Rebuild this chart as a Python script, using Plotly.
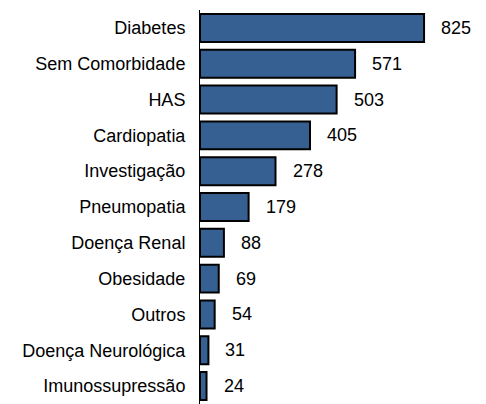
import plotly.graph_objects as go

# comorbidades e contagens (de cima para baixo)
categorias = ["Diabetes", "Sem Comorbidade", "HAS", "Cardiopatia", "Investigação",
              "Pneumopatia", "Doença Renal", "Obesidade", "Outros",
              "Doença Neurológica", "Imunossupressão"]
valores = [825, 571, 503, 405, 278, 179, 88, 69, 54, 31, 24]

fig = go.Figure()
fig.add_trace(go.Bar(
    x=valores, y=categorias, orientation="h",
    marker=dict(color="#376092", line=dict(color="black", width=2)),
    width=0.78,
))

# rotulos de valor a direita das barras
for cat, v in zip(categorias, valores):
    fig.add_annotation(x=v, y=cat, text=str(v), showarrow=False,
                       xanchor="left", xshift=15,
                       font=dict(family="Liberation Sans", size=18, color="black"))

# a pagina tem margem de 8px no body, por isso a figura e menor
fig.update_layout(
    width=478, height=396,
    margin=dict(l=192, r=6, t=2, b=0),
    plot_bgcolor="white", paper_bgcolor="white",
    showlegend=False,
    font=dict(family="Liberation Sans", size=18, color="black"),
    xaxis=dict(range=[0, 1031], visible=False),
    yaxis=dict(autorange="reversed", showline=True, linecolor="black", linewidth=1,
               ticks="", showgrid=False, ticklabelstandoff=10),
)

fig.write_html("out.html")
